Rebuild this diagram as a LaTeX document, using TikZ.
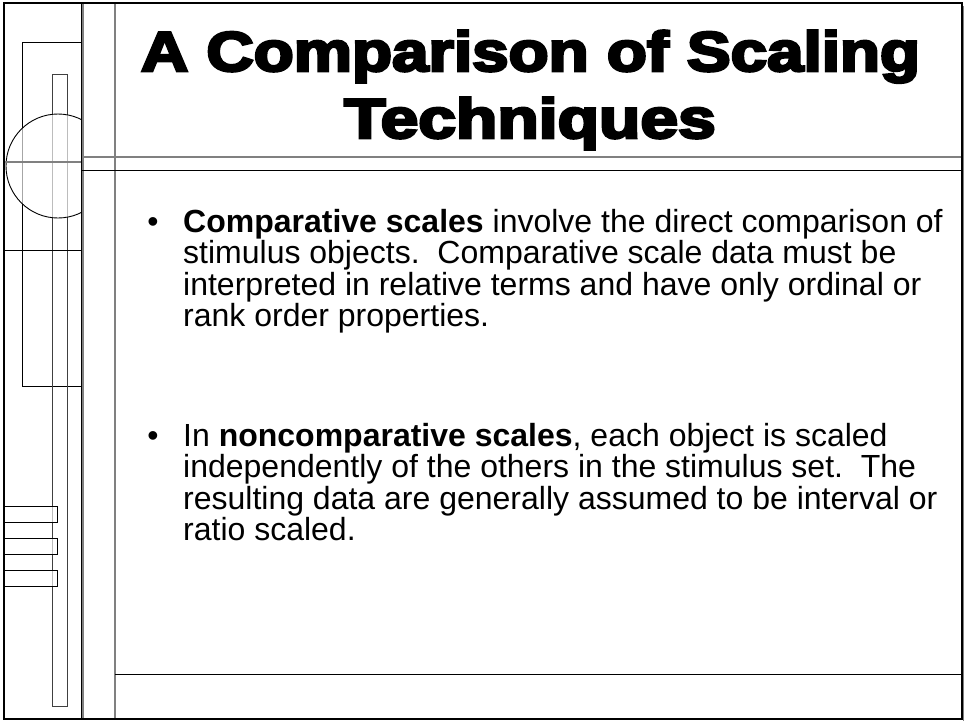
\documentclass[tikz,border=0pt]{standalone}
\usepackage{fontspec}
\setmainfont{Liberation Sans}
\newfontfamily\titlefont[FakeBold=4.5]{Liberation Sans Bold}
\definecolor{rulegray}{HTML}{808080}
\begin{document}
\begin{tikzpicture}[x=1pt,y=-1pt,
  frame/.style={draw=black,line width=2pt},
  thinline/.style={draw=black,line width=0.9pt},
  grayline/.style={draw=rulegray,line width=1.6pt},
  veil/.style={fill=white,fill opacity=0.65},
  titletext/.style={anchor=base,inner sep=0pt,font=\titlefont\fontsize{56}{66}\selectfont},
  bodytext/.style={anchor=base west,inner sep=0pt,font=\fontsize{32}{32}\selectfont},
  dot/.style={anchor=base,inner sep=0pt,font=\fontsize{32}{32}\selectfont}]
\useasboundingbox (0,0) rectangle (965,721);
\fill[white] (0,0) rectangle (965,721);

% decorative strip on the left
\draw[thinline] (22,42) rectangle (82,386);
\draw[draw=black!75,line width=0.9pt] (52,74) rectangle (67,706);
\begin{scope}
  \clip (0,0) rectangle (82,721);
  \path[veil] (58,166) circle (52);
  \draw[thinline] (58,166) circle (52);
\end{scope}
\draw[draw=rulegray,line width=1.2pt] (4,162) -- (82,162);
\draw[thinline] (4,250) -- (82,250);
\foreach \y in {506,538,570}
  \path[veil,draw=black,line width=0.9pt,draw opacity=1] (4,\y) rectangle (57,\y+16);

% vertical and horizontal rules
\draw[grayline] (83.2,3) -- (83.2,719);
\draw[thinline] (81.6,3) -- (81.6,719);
\draw[grayline] (115,3) -- (115,719);
\draw[grayline] (82,157) -- (962,157);
\draw[thinline] (82,170.5) -- (962,170.5);
\draw[thinline] (115,674) -- (962,674);

% outer frame
\draw[draw=rulegray,line width=1.5pt] (963.5,6) -- (963.5,720.5);
\draw[frame] (4,3) rectangle (961.5,719);

% title
\node[titletext] (title1) at (530.5,71) {\scalebox{1.17}[1]{A Comparison of Scaling}};
\node[titletext] (title2) at (530,138) {\scalebox{1.21}[1]{Techniques}};

% first bullet
\node[dot] (b1) at (153,232) {\textbullet};
\node[bodytext] (l11) at (183,232) {\textbf{Comparative scales} involve the direct comparison of};
\node[bodytext] (l12) at (183,263.5) {stimulus objects.\ \ Comparative scale data must be};
\node[bodytext] (l13) at (183,295) {interpreted in relative terms and have only ordinal or};
\node[bodytext] (l14) at (183,326.5) {rank order properties.};

% second bullet
\node[dot] (b2) at (153,446) {\textbullet};
\node[bodytext] (l21) at (183,446) {In \textbf{noncomparative scales}, each object is scaled};
\node[bodytext] (l22) at (183,477.5) {independently of the others in the stimulus set.\ \ The};
\node[bodytext] (l23) at (183,509) {resulting data are generally assumed to be interval or};
\node[bodytext] (l24) at (183,540.5) {ratio scaled.};
\end{tikzpicture}
\end{document}
